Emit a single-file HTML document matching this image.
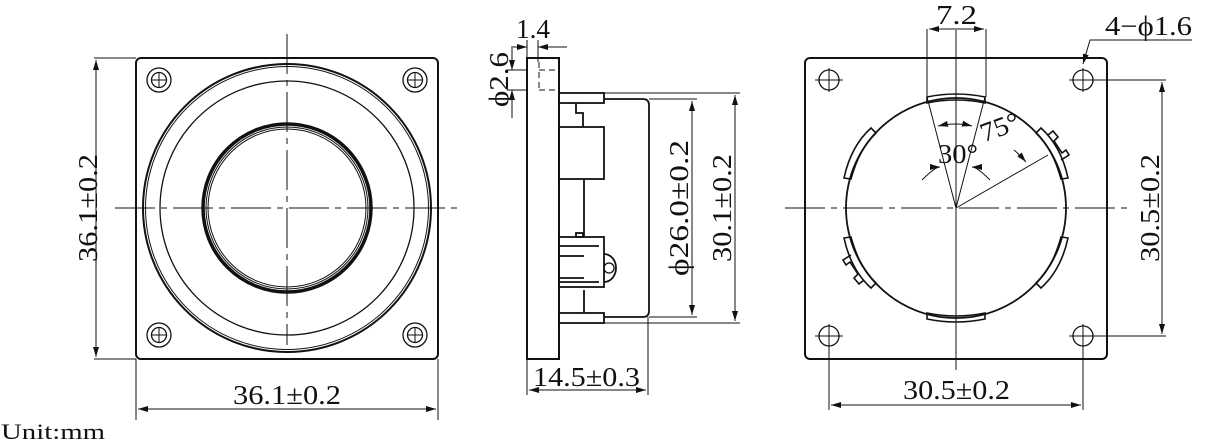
<!DOCTYPE html>
<html><head><meta charset="utf-8"><style>
html,body{margin:0;padding:0;background:#fff;width:1206px;height:444px;overflow:hidden}
svg{display:block}
text{font-family:"Liberation Serif",serif;fill:#111}
</style></head><body>
<svg width="1206" height="444" viewBox="0 0 1206 444" xmlns="http://www.w3.org/2000/svg">
<defs>
<marker id="a" viewBox="0 0 10 6" refX="10" refY="3" markerWidth="10" markerHeight="6" orient="auto-start-reverse" markerUnits="userSpaceOnUse"><path d="M0,0L10,3L0,6z" fill="#111"/></marker>
</defs>
<g fill="none" stroke="#111" stroke-width="1">
<!-- LEFT VIEW -->
<rect x="136" y="58" width="302" height="301" rx="5" stroke-width="2"/>
<circle cx="287" cy="208" r="144" stroke-width="2"/>
<circle cx="287" cy="208" r="141.5"/>
<circle cx="287" cy="208" r="127" stroke-width="1.3"/>
<circle cx="287" cy="208" r="84" stroke-width="3.5"/>
<circle cx="287" cy="208" r="81" stroke-width="1"/>
<circle cx="287" cy="208" r="79" stroke-width="1"/>
<g stroke-width="1.3">
<circle cx="159" cy="80" r="12"/><circle cx="159" cy="80" r="7.5"/>
<circle cx="415" cy="80" r="12"/><circle cx="415" cy="80" r="7.5"/>
<circle cx="159" cy="335" r="12"/><circle cx="159" cy="335" r="7.5"/>
<circle cx="415" cy="335" r="12"/><circle cx="415" cy="335" r="7.5"/>
</g>
<path d="M151,80h16M159,72v16M407,80h16M415,72v16M151,335h16M159,327v16M407,335h16M415,327v16"/>
<path d="M115,208H460" stroke-dasharray="40,6,6,6"/>
<path d="M287,34V345" stroke-dasharray="40,6,6,6"/>
<path d="M94,58H136M94,359H136M136,359V420M438,359V420"/>
<path d="M96,60V357" marker-start="url(#a)" marker-end="url(#a)"/>
<path d="M138,409H436" marker-start="url(#a)" marker-end="url(#a)"/>

<!-- MIDDLE VIEW -->
<rect x="527" y="58" width="32" height="301" stroke-width="2"/>
<path d="M539,62v28M539,70h20M539,90h20" stroke-dasharray="6,4"/>
<g stroke-width="1.8">
<rect x="559" y="93" width="45" height="10"/>
<rect x="559" y="313" width="45" height="10"/>
<path d="M576,103v10h7v14"/>
<rect x="559" y="127" width="45" height="52"/>
<path d="M584,179V236"/>
<rect x="576" y="233" width="7" height="4"/>
<rect x="559" y="237" width="45" height="50"/>
<path d="M559,246h40M559,282h40M559,256h25M559,278h25"/>
<path d="M604,254a12,14 0 0 1 0,28" />
<path d="M584,290V313"/>
<path d="M604,99H643q6,0 6,6V311q0,6 -6,6H604"/>
</g>
<circle cx="609" cy="268" r="5" stroke-width="1.3"/>
<path d="M604,93H740M604,323H740M649,99H697M649,317H697"/>
<path d="M692,101V315" marker-start="url(#a)" marker-end="url(#a)"/>
<path d="M735,95V321" marker-start="url(#a)" marker-end="url(#a)"/>
<path d="M527,359V395M648,317V395"/>
<path d="M529,390H646" marker-start="url(#a)" marker-end="url(#a)"/>
<path d="M527,40V58M538,40V62"/>
<path d="M511,47H527" marker-end="url(#a)"/><path d="M567,47H538" marker-end="url(#a)"/>
<path d="M507,70H527M507,90H527"/>
<path d="M512,48V70" marker-end="url(#a)"/><path d="M512,118V90" marker-end="url(#a)"/>

<!-- RIGHT VIEW -->
<rect x="805" y="58" width="302" height="301" rx="5" stroke-width="2"/>
<circle cx="956" cy="208" r="110" stroke-width="1.8"/>
<g stroke-width="1.3">
<circle cx="829" cy="80" r="10"/><circle cx="1083" cy="80" r="10"/>
<circle cx="829" cy="336" r="10"/><circle cx="1083" cy="336" r="10"/>
</g>
<path d="M815,80h28M829,68v24M1069,80h28M1083,68v24M815,336h28M829,324v24M1069,336h28M1083,324v24"/>
<path d="M785,208H1130" stroke-dasharray="40,6,6,6"/>
<path d="M956,30V370"/>
<g stroke-width="1.6">
<path d="M927,97 L927,103 Q956,97 985,103 L985,97 Q956,91 927,97z"/>
<path d="M927,319 L927,313 Q956,319 985,313 L985,319 Q956,325 927,319z"/>
<path d="M876,133l-5,-5q-20,18 -27,50l7,1q8,-30 25,-46z"/>
<path d="M1036,133l5,-5q20,18 27,50l-7,1q-8,-30 -25,-46z"/>
<path d="M876,283l-5,5q-20,-18 -27,-50l7,-1q8,30 25,46z"/>
<path d="M1036,283l5,5q20,-18 27,-50l-7,-1q-8,30 -25,46z"/>
<path d="M1048,135l5,-4 5,6 -4,4 8,12 4,-3 3,5 -8,5"/>
<path d="M864,280l-5,4 -5,-6 4,-4 -8,-12 -4,3 -3,-5 8,-5"/>
</g>
<path d="M956,208L927,97M956,208L985,97M956,208L1048,155"/>
<path d="M927,29V97M986,29V97"/>
<path d="M929,29H984" marker-start="url(#a)" marker-end="url(#a)"/>
<path d="M938,126Q956,122 972,126" marker-start="url(#a)" marker-end="url(#a)"/>
<path d="M922,180Q935,167 940,167" marker-end="url(#a)"/>
<path d="M990,180Q977,167 972,167" marker-end="url(#a)"/>
<path d="M1014,150Q1020,155 1026,162" marker-end="url(#a)"/>
<path d="M1192,40H1090L1083,64" marker-end="url(#a)"/>
<path d="M1093,80H1166M1093,336H1166"/>
<path d="M1162,82V334" marker-start="url(#a)" marker-end="url(#a)"/>
<path d="M829,346V410M1083,346V410"/>
<path d="M831,405H1081" marker-start="url(#a)" marker-end="url(#a)"/>
</g>
<!-- TEXT -->
<g font-size="27">
<text x="34" y="217" textLength="108" lengthAdjust="spacingAndGlyphs" transform="rotate(-90 88 208)">36.1±0.2</text>
<text x="233" y="404" textLength="108" lengthAdjust="spacingAndGlyphs">36.1±0.2</text>
<text x="533" y="386" textLength="107" lengthAdjust="spacingAndGlyphs">14.5±0.3</text>
<text x="516" y="38" textLength="34" lengthAdjust="spacingAndGlyphs">1.4</text>
<text x="471" y="90" textLength="55" lengthAdjust="spacingAndGlyphs" transform="rotate(-90 498 80)">ϕ2.6</text>
<text x="610" y="218" textLength="136" lengthAdjust="spacingAndGlyphs" transform="rotate(-90 678 208)">ϕ26.0±0.2</text>
<text x="667" y="218" textLength="108" lengthAdjust="spacingAndGlyphs" transform="rotate(-90 721 208)">30.1±0.2</text>
<text x="936" y="24" textLength="41" lengthAdjust="spacingAndGlyphs">7.2</text>
<text x="1105" y="35" textLength="87" lengthAdjust="spacingAndGlyphs">4−ϕ1.6</text>
<text x="1095" y="218" textLength="108" lengthAdjust="spacingAndGlyphs" transform="rotate(-90 1149 208)">30.5±0.2</text>
<text x="903" y="399" textLength="107" lengthAdjust="spacingAndGlyphs">30.5±0.2</text>
<text x="938" y="163" textLength="40" lengthAdjust="spacingAndGlyphs">30°</text>
<text x="980" y="136" textLength="40" lengthAdjust="spacingAndGlyphs" transform="rotate(-20 1000 128)">75°</text>
</g>
<text x="1" y="439" font-size="22" textLength="104" lengthAdjust="spacingAndGlyphs">Unit:mm</text>
</svg>
</body></html>
